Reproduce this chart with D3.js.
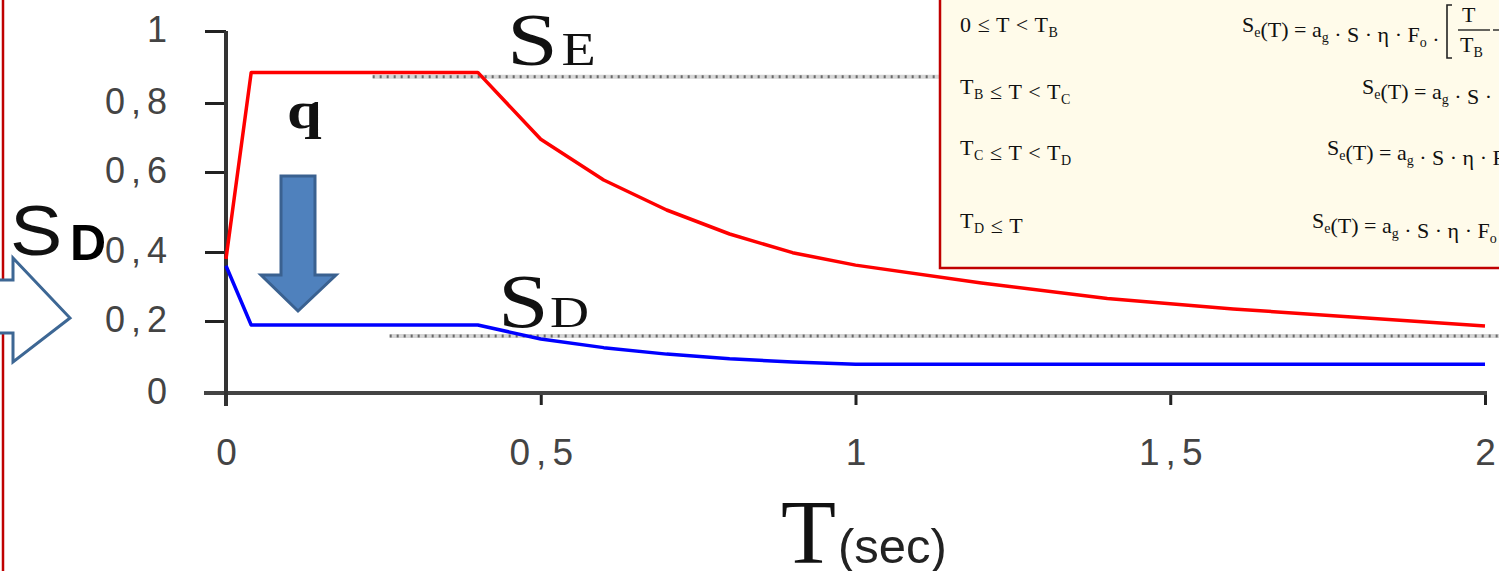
<!DOCTYPE html>
<html>
<head>
<meta charset="utf-8">
<script src="https://cdn.jsdelivr.net/npm/d3@7"></script>
<style>
  html, body { margin: 0; padding: 0; background: #fff; }
  svg { display: block; }
</style>
</head>
<body>
<svg id="chart" width="1499" height="571"></svg>
<script>
// ---- data ----
const periodsSe = [0, 0.04, 0.4, 0.5, 0.6, 0.7, 0.8, 0.9, 1.0, 1.2, 1.4, 1.6, 1.8, 2.0];
const seValues  = [0.38, 0.885, 0.885, 0.695, 0.58, 0.505, 0.445, 0.398, 0.362, 0.31, 0.265, 0.235, 0.21, 0.186];
const periodsSd = [0, 0.04, 0.4, 0.5, 0.6, 0.7, 0.8, 0.9, 1.0, 2.0];
const sdValues  = [0.36, 0.189, 0.189, 0.15, 0.126, 0.108, 0.095, 0.086, 0.08, 0.08];
const xTicks = [0, 0.5, 1, 1.5, 2];
const yTicks = [0, 0.2, 0.4, 0.6, 0.8, 1];
const refLevels = [0.873, 0.158];
const refFrom   = [0.233, 0.26];
const refTo     = [1.14, 2.05];

const svg = d3.select("#chart");

// scales (reference image is slightly unevenly stretched vertically)
const x = d3.scaleLinear().domain([0, 2]).range([226, 1485]);
const y = d3.scaleLinear().domain(yTicks).range([393, 321, 252, 172, 103, 31]);

const fmt = d => String(d).replace(".", ",");
const serif = "Liberation Serif, Times New Roman, serif";
const sans = "Liberation Sans, Arial, sans-serif";

// page left red rule
svg.append("line").attr("x1", 3).attr("x2", 3).attr("y1", 0).attr("y2", 571)
  .attr("stroke", "#c00000").attr("stroke-width", 2.5);

// dotted reference lines
refLevels.forEach((v, i) => {
  svg.append("line").attr("x1", x(refFrom[i])).attr("x2", x(refTo[i]))
    .attr("y1", y(v)).attr("y2", y(v))
    .attr("stroke", "#d6d6d6").attr("stroke-width", 4);
  svg.append("line").attr("x1", x(refFrom[i])).attr("x2", x(refTo[i]))
    .attr("y1", y(v)).attr("y2", y(v))
    .attr("stroke", "#6a6a6a").attr("stroke-width", 3).attr("stroke-dasharray", "2,5");
});

// axes
const xAxis = d3.axisBottom(x).tickValues(xTicks).tickFormat(fmt).tickSize(12).tickPadding(34);
const gx = svg.append("g").attr("transform", `translate(0,${y(0)})`).call(xAxis);
gx.select(".domain").remove();
gx.selectAll(".tick line").attr("stroke", "#222").attr("stroke-width", 3);
gx.selectAll(".tick text").attr("font-family", sans)
  .attr("font-size", 37).attr("fill", "#444").attr("letter-spacing", "6px")
  .attr("dx", 3);

const yAxis = d3.axisLeft(y).tickValues(yTicks).tickFormat(fmt).tickSize(21).tickPadding(32);
const gy = svg.append("g").attr("transform", `translate(${x(0)},0)`).call(yAxis);
gy.select(".domain").remove();
gy.selectAll(".tick line").attr("stroke", "#222").attr("stroke-width", 3);
gy.selectAll(".tick text").attr("font-family", sans)
  .attr("font-size", 36).attr("fill", "#444").attr("letter-spacing", "6px")
  .attr("dy", "0.3em");

// axis lines
svg.append("line").attr("x1", x(0) - 22).attr("x2", x(2) + 2).attr("y1", y(0)).attr("y2", y(0))
  .attr("stroke", "#444").attr("stroke-width", 4);
svg.append("line").attr("x1", x(0)).attr("x2", x(0)).attr("y1", y(1)).attr("y2", y(0) + 13)
  .attr("stroke", "#333").attr("stroke-width", 4);

// curves
const line = d3.line().x(d => x(d[0])).y(d => y(d[1]));
svg.append("path").datum(periodsSd.map((t, i) => [t, sdValues[i]]))
  .attr("d", line).attr("fill", "none").attr("stroke", "#0000ff").attr("stroke-width", 3.5)
  .attr("stroke-linejoin", "round");
svg.append("path").datum(periodsSe.map((t, i) => [t, seValues[i]]))
  .attr("d", line).attr("fill", "none").attr("stroke", "#ff0000").attr("stroke-width", 3.5)
  .attr("stroke-linejoin", "round");

// stretched text helper
function stretched(xp, yp, sx) {
  return svg.append("g").attr("transform", `translate(${xp},${yp}) scale(${sx},1)`)
    .append("text").attr("x", 0).attr("y", 0);
}

// labels on curves
const se = stretched(507, 65, 1.22).attr("font-family", serif).attr("fill", "#111");
se.append("tspan").attr("font-size", 75).text("S");
se.append("tspan").attr("font-size", 46).attr("dx", 3).text("E");
const sd = stretched(498, 327, 1.2).attr("font-family", serif).attr("fill", "#111");
sd.append("tspan").attr("font-size", 76).text("S");
sd.append("tspan").attr("font-size", 45).attr("dx", 1).text("D");

stretched(287, 128, 1.2).attr("font-family", serif)
  .attr("font-weight", "bold").attr("font-size", 52).attr("fill", "#111").text("q");

// down arrow (q reduction)
svg.append("path")
  .attr("d", "M281,176 L315,176 L315,275 L336,275 L298,311 L261,275 L281,275 Z")
  .attr("fill", "#4f81bd").attr("stroke", "#3a6190").attr("stroke-width", 3).attr("stroke-linejoin", "miter");

// left hollow arrow
svg.append("path")
  .attr("d", "M-10,280 L13,280 L13,258 L70,318 L13,362 L13,333 L-10,333")
  .attr("fill", "#fff").attr("stroke", "#3d6794").attr("stroke-width", 3);

// y label S_D
stretched(10, 255, 1.12).attr("font-family", sans).attr("font-size", 70).attr("fill", "#111").text("S");
svg.append("text").attr("x", 70).attr("y", 260).attr("font-family", sans).attr("font-weight", "bold")
  .attr("font-size", 50).attr("fill", "#000").text("D");

// x label T(sec)
svg.append("text").attr("x", 781).attr("y", 563).attr("font-family", serif)
  .attr("font-size", 90).attr("fill", "#111").text("T");
svg.append("text").attr("x", 838).attr("y", 563).attr("font-family", sans)
  .attr("font-size", 49).attr("fill", "#222").text("(sec)");

// formula box
svg.append("rect").attr("x", 940).attr("y", -5).attr("width", 600).attr("height", 273)
  .attr("fill", "#fffbea").attr("stroke", "#c00000").attr("stroke-width", 2.5);

function formula(xp, yp, parts, ls) {
  const t = svg.append("text").attr("x", xp).attr("y", yp).attr("font-family", serif)
    .attr("font-size", 22).attr("fill", "#111").attr("letter-spacing", ls || 0)
    .style("white-space", "pre");
  parts.forEach(p => {
    if (typeof p === "string") t.append("tspan").text(p);
    else {
      t.append("tspan").attr("font-size", 14).attr("dy", 5).text(p.sub);
      t.append("tspan").attr("dy", -5).text("");
    }
  });
  return t;
}
formula(960, 32, ["0 ≤ T < T", {sub: "B"}], 0.6);
formula(960, 94, ["T", {sub: "B"}, " ≤ T < T", {sub: "C"}], 0.6);
formula(960, 155, ["T", {sub: "C"}, " ≤ T < T", {sub: "D"}], 0.6);
formula(960, 228, ["T", {sub: "D"}, " ≤ T"], 0.6);

formula(1242, 32, ["S", {sub: "e"}, "(T) = a", {sub: "g"}, " · S · η · F", {sub: "o"}, " ·"]);
formula(1362, 94, ["S", {sub: "e"}, "(T) = a", {sub: "g"}, " · S ·"]);
formula(1327, 155, ["S", {sub: "e"}, "(T) = a", {sub: "g"}, " · S · η · F"]);
formula(1312, 228, ["S", {sub: "e"}, "(T) = a", {sub: "g"}, " · S · η · F", {sub: "o"}]);

// bracket and fraction
svg.append("path").attr("d", "M1452,5 L1447,5 L1447,58 L1452,58").attr("fill", "none")
  .attr("stroke", "#222").attr("stroke-width", 1.6);
svg.append("text").attr("x", 1462).attr("y", 22).attr("font-family", serif).attr("font-size", 22)
  .attr("fill", "#111").text("T");
svg.append("line").attr("x1", 1458).attr("x2", 1490).attr("y1", 30).attr("y2", 30)
  .attr("stroke", "#111").attr("stroke-width", 1.3);
const tb = svg.append("text").attr("x", 1460).attr("y", 52).attr("font-family", serif).attr("font-size", 22).attr("fill", "#111");
tb.append("tspan").text("T");
tb.append("tspan").attr("font-size", 14).attr("dy", 5).text("B");
svg.append("line").attr("x1", 1493).attr("x2", 1499).attr("y1", 30).attr("y2", 30)
  .attr("stroke", "#111").attr("stroke-width", 1.3);
</script>
</body>
</html>
